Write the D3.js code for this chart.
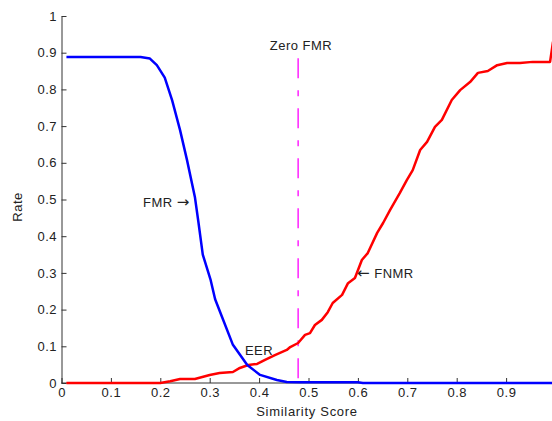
<!DOCTYPE html>
<html>
<head>
<meta charset="utf-8">
<script src="https://cdn.jsdelivr.net/npm/d3@7"></script>
<style>
  body { margin: 0; background: #fff; }
  svg { display: block; font-family: "Liberation Sans", Arial, sans-serif; }
</style>
</head>
<body>
<div id="chart"></div>
<script>
// FMR curve (blue)
const fmrScore = [0.01, 0.16, 0.179, 0.193, 0.209, 0.224, 0.24, 0.254, 0.27, 0.277, 0.286, 0.294, 0.302, 0.311, 0.325, 0.347, 0.376, 0.402, 0.436, 0.456, 0.483, 0.6, 0.61, 1.0];
const fmrRate  = [0.888, 0.888, 0.884, 0.866, 0.832, 0.77, 0.689, 0.608, 0.507, 0.44, 0.35, 0.315, 0.28, 0.228, 0.18, 0.104, 0.049, 0.022, 0.008, 0.003, 0.002, 0.002, 0, 0];

// FNMR curve (red)
const fnmrScore = [0.01, 0.2, 0.22, 0.24, 0.27, 0.3, 0.32, 0.347, 0.361, 0.378, 0.396, 0.412, 0.432, 0.456, 0.463, 0.479, 0.493, 0.503, 0.513, 0.527, 0.539, 0.549, 0.568, 0.58, 0.594, 0.608, 0.62, 0.639, 0.651, 0.665, 0.685, 0.699, 0.711, 0.726, 0.74, 0.756, 0.77, 0.79, 0.807, 0.827, 0.843, 0.863, 0.882, 0.902, 0.928, 0.954, 0.989, 0.995];
const fnmrRate  = [0, 0, 0.005, 0.011, 0.011, 0.022, 0.027, 0.03, 0.041, 0.049, 0.052, 0.063, 0.076, 0.09, 0.098, 0.109, 0.131, 0.136, 0.158, 0.172, 0.193, 0.218, 0.24, 0.272, 0.286, 0.335, 0.354, 0.409, 0.436, 0.471, 0.518, 0.553, 0.58, 0.635, 0.657, 0.698, 0.717, 0.771, 0.798, 0.82, 0.845, 0.85, 0.866, 0.872, 0.872, 0.875, 0.875, 0.93];

const zeroFmr = 0.479;
const zeroFmrTop = 0.885;

const xTicks = [0, 0.1, 0.2, 0.3, 0.4, 0.5, 0.6, 0.7, 0.8, 0.9];
const yTicks = [0, 0.1, 0.2, 0.3, 0.4, 0.5, 0.6, 0.7, 0.8, 0.9, 1];
const xTickLabels = ["0", "0.1", "0.2", "0.3", "0.4", "0.5", "0.6", "0.7", "0.8", "0.9"];
const yTickLabels = ["0", "0.1", "0.2", "0.3", "0.4", "0.5", "0.6", "0.7", "0.8", "0.9", "1"];

const W = 552, H = 421;
const margin = { top: 16, right: -3.5, bottom: 38, left: 61.5 };

const svg = d3.select("#chart").append("svg")
    .attr("width", W)
    .attr("height", H);

const x = d3.scaleLinear().domain([0, 1]).range([margin.left, W - margin.right]);
const y = d3.scaleLinear().domain([0, 1]).range([H - margin.bottom, margin.top]);

// axes, ticks pointing inwards like matlab
svg.append("g")
    .attr("transform", "translate(0," + y(0) + ")")
    .call(d3.axisBottom(x).tickValues(xTicks)
        .tickFormat((d, i) => xTickLabels[i])
        .tickSizeInner(-5).tickSizeOuter(0).tickPadding(5))
    .select(".domain").attr("d", "M" + x(0) + ",0H" + W);

svg.append("g")
    .attr("transform", "translate(" + x(0) + ",0)")
    .call(d3.axisLeft(y).tickValues(yTicks)
        .tickFormat((d, i) => yTickLabels[i])
        .tickSizeInner(-5).tickSizeOuter(0).tickPadding(4.5));

svg.selectAll(".domain").attr("stroke", "#333");
svg.selectAll(".tick line").attr("stroke", "#333");
svg.selectAll(".tick text")
    .style("font-size", "13px")
    .style("letter-spacing", "0.5px")
    .attr("fill", "#222");

const line = d3.line()
    .x(d => x(d[0]))
    .y(d => y(d[1]));

// zero FMR threshold
svg.append("line")
    .attr("x1", x(zeroFmr)).attr("x2", x(zeroFmr))
    .attr("y1", y(zeroFmrTop)).attr("y2", y(0))
    .attr("stroke", "#ff00ff")
    .attr("stroke-width", 1.3)
    .attr("stroke-dasharray", "20,12,6,12");

svg.append("path")
    .attr("d", line(fnmrScore.map((s, i) => [s, fnmrRate[i]])))
    .attr("fill", "none")
    .attr("stroke", "#ff0000")
    .attr("stroke-width", 2.5)
    .attr("stroke-linejoin", "round");

svg.append("path")
    .attr("d", line(fmrScore.map((s, i) => [s, fmrRate[i]])))
    .attr("fill", "none")
    .attr("stroke", "#0000ff")
    .attr("stroke-width", 2.5)
    .attr("stroke-linejoin", "round");

// annotations
const notes = [
    { text: "Zero FMR", x: 301, y: 50, anchor: "middle" },
    { text: "EER", x: 259, y: 355, anchor: "middle" }
];

svg.selectAll(".note")
    .data(notes)
    .enter().append("text")
    .attr("class", "note")
    .attr("x", d => d.x)
    .attr("y", d => d.y)
    .attr("text-anchor", d => d.anchor)
    .style("font-size", "13px")
    .style("letter-spacing", "0.5px")
    .attr("fill", "#222")
    .text(d => d.text);

// labels with arrows, the arrow glyph taken from DejaVu for its length
const fmrNote = svg.append("text")
    .attr("x", 143).attr("y", 207)
    .style("font-size", "13px")
    .style("letter-spacing", "0.5px")
    .attr("fill", "#222");
fmrNote.append("tspan").text("FMR ");
fmrNote.append("tspan").style("font-family", "DejaVu Sans").style("font-size", "15px").text("\u2192");

const fnmrNote = svg.append("text")
    .attr("x", 357).attr("y", 278)
    .style("font-size", "13px")
    .style("letter-spacing", "0.5px")
    .attr("fill", "#222");
fnmrNote.append("tspan").style("font-family", "DejaVu Sans").style("font-size", "15px").text("\u2190");
fnmrNote.append("tspan").text(" FNMR");

svg.append("text")
    .attr("x", 307)
    .attr("y", 416)
    .attr("text-anchor", "middle")
    .style("font-size", "13px")
    .style("letter-spacing", "0.7px")
    .attr("fill", "#222")
    .text("Similarity Score");

svg.append("text")
    .attr("transform", "translate(22,207) rotate(-90)")
    .attr("text-anchor", "middle")
    .style("font-size", "13px")
    .style("letter-spacing", "0.5px")
    .attr("fill", "#222")
    .text("Rate");
</script>
</body>
</html>
